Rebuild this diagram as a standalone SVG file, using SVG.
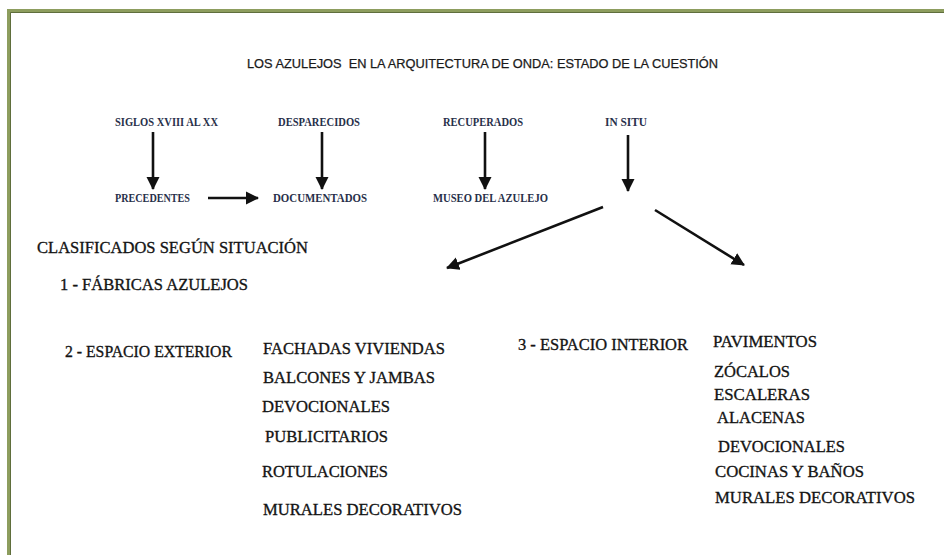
<svg xmlns="http://www.w3.org/2000/svg" width="944" height="555" viewBox="0 0 944 555">
<style>
.title{font-family:"Liberation Sans",Arial,sans-serif;font-size:12.5px;fill:#1a1a1a;stroke:#1a1a1a;stroke-width:0.25;white-space:pre}
.sm{font-family:"Liberation Serif","Times New Roman",serif;font-size:11.5px;font-weight:bold;fill:#28304a}
.lg{font-family:"Liberation Serif","Times New Roman",serif;font-size:17.5px;fill:#141414;stroke:#141414;stroke-width:0.35}
.arr{stroke:#111;stroke-width:2.6;fill:none;marker-end:url(#ah)}
</style>
<defs>
<marker id="ah" markerUnits="userSpaceOnUse" markerWidth="14" markerHeight="14" viewBox="0 0 14 14" refX="12" refY="7" orient="auto">
<path d="M0,0.5 L13,7 L0,13.5 Z" fill="#111"/>
</marker>
</defs>
<rect width="944" height="555" fill="#ffffff"/>
<g id="border">
<path d="M9,555 V11 H944" fill="none" stroke="#8d9d5e" stroke-width="4"/>
<path d="M10.5,555 V12.5 H944" fill="none" stroke="#5f6e3c" stroke-width="1"/>
</g>
<g id="title"><text class="title" x="247" y="68" textLength="471" lengthAdjust="spacingAndGlyphs">LOS AZULEJOS  EN LA ARQUITECTURA DE ONDA: ESTADO DE LA CUESTIÓN</text></g>
<g id="siglos"><text class="sm" x="115" y="126" textLength="103" lengthAdjust="spacingAndGlyphs">SIGLOS XVIII AL XX</text></g>
<g id="desparecidos"><text class="sm" x="278" y="126" textLength="82" lengthAdjust="spacingAndGlyphs">DESPARECIDOS</text></g>
<g id="recuperados"><text class="sm" x="443" y="126" textLength="80" lengthAdjust="spacingAndGlyphs">RECUPERADOS</text></g>
<g id="insitu"><text class="sm" x="605" y="126" textLength="42" lengthAdjust="spacingAndGlyphs">IN SITU</text></g>
<g id="precedentes"><text class="sm" x="115" y="202" textLength="75" lengthAdjust="spacingAndGlyphs">PRECEDENTES</text></g>
<g id="documentados"><text class="sm" x="273" y="202" textLength="94" lengthAdjust="spacingAndGlyphs">DOCUMENTADOS</text></g>
<g id="museo"><text class="sm" x="433" y="202" textLength="115" lengthAdjust="spacingAndGlyphs">MUSEO DEL AZULEJO</text></g>
<g id="connectors">
<line class="arr" x1="153" y1="132" x2="153" y2="189"/>
<line class="arr" x1="322" y1="132" x2="322" y2="189"/>
<line class="arr" x1="485" y1="132" x2="485" y2="189"/>
<line class="arr" x1="628" y1="135" x2="628" y2="191"/>
<line class="arr" x1="208" y1="198" x2="258" y2="198"/>
<line class="arr" x1="603" y1="207" x2="447" y2="268"/>
<line class="arr" x1="655" y1="210" x2="744" y2="265"/>
</g>
<g id="clasificados"><text class="lg" x="37" y="253" textLength="271" lengthAdjust="spacingAndGlyphs">CLASIFICADOS SEGÚN SITUACIÓN</text></g>
<g id="fabricas"><text class="lg" x="60" y="290" textLength="188" lengthAdjust="spacingAndGlyphs">1 - FÁBRICAS AZULEJOS</text></g>
<g id="exterior">
<text class="lg" x="65" y="357" textLength="167" lengthAdjust="spacingAndGlyphs">2 - ESPACIO EXTERIOR</text>
<text class="lg" x="263" y="354" textLength="182" lengthAdjust="spacingAndGlyphs">FACHADAS VIVIENDAS</text>
<text class="lg" x="263" y="383" textLength="172" lengthAdjust="spacingAndGlyphs">BALCONES Y JAMBAS</text>
<text class="lg" x="262" y="412" textLength="128" lengthAdjust="spacingAndGlyphs">DEVOCIONALES</text>
<text class="lg" x="265" y="442" textLength="123" lengthAdjust="spacingAndGlyphs">PUBLICITARIOS</text>
<text class="lg" x="262" y="477" textLength="126" lengthAdjust="spacingAndGlyphs">ROTULACIONES</text>
<text class="lg" x="263" y="515" textLength="199" lengthAdjust="spacingAndGlyphs">MURALES DECORATIVOS</text>
</g>
<g id="interior">
<text class="lg" x="518" y="350" textLength="170" lengthAdjust="spacingAndGlyphs">3 - ESPACIO INTERIOR</text>
<text class="lg" x="713" y="347" textLength="104" lengthAdjust="spacingAndGlyphs">PAVIMENTOS</text>
<text class="lg" x="714" y="377" textLength="76" lengthAdjust="spacingAndGlyphs">ZÓCALOS</text>
<text class="lg" x="714" y="400" textLength="96" lengthAdjust="spacingAndGlyphs">ESCALERAS</text>
<text class="lg" x="717" y="423" textLength="88" lengthAdjust="spacingAndGlyphs">ALACENAS</text>
<text class="lg" x="718" y="452" textLength="127" lengthAdjust="spacingAndGlyphs">DEVOCIONALES</text>
<text class="lg" x="715" y="477" textLength="149" lengthAdjust="spacingAndGlyphs">COCINAS Y BAÑOS</text>
<text class="lg" x="715" y="503" textLength="200" lengthAdjust="spacingAndGlyphs">MURALES DECORATIVOS</text>
</g>
</svg>
